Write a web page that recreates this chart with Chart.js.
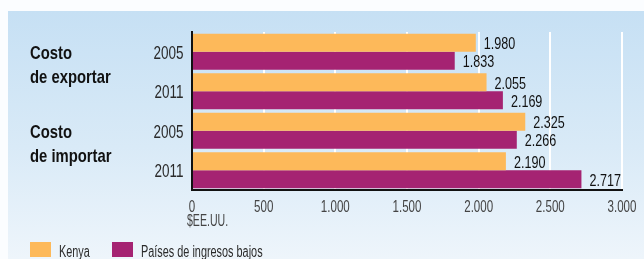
<!DOCTYPE html>
<html>
<head>
<meta charset="utf-8">
<script src="https://cdn.jsdelivr.net/npm/chart.js@4/dist/chart.umd.min.js"></script>
<style>
  html, body { margin: 0; padding: 0; background: #fbfdff; }
  #wrap { width: 644px; height: 259px; }
</style>
</head>
<body>
<div id="wrap"><canvas id="costChart" width="644" height="259"></canvas></div>
<script>
// --- Data ---
const categories = ['2005', '2011', '2005', '2011'];
const groupLabels = [['Costo', 'de exportar'], ['Costo', 'de importar']];
const groupStart = [0, 2];
const kenya = [1980, 2055, 2325, 2190];
const lowIncome = [1833, 2169, 2266, 2717];
const xTicks = [0, 500, 1000, 1500, 2000, 2500, 3000];
const unitLabel = '$EE.UU.';

// no condensed face installed, so text is squeezed horizontally by hand
const FONT = "'Liberation Sans', Arial, sans-serif";
const ORANGE = '#fdb95a';
const PURPLE = '#a52372';

function fmt(v) {
    return String(v).replace(/\B(?=(\d{3})+(?!\d))/g, '.');
}

function drawText(ctx, text, x, y, font, sx, align, color) {
    ctx.save();
    ctx.font = font;
    ctx.fillStyle = color;
    const w = ctx.measureText(text).width * sx;
    let left = x;
    if (align === 'right') left = x - w;
    else if (align === 'center') left = x - w / 2;
    ctx.translate(left, y);
    ctx.scale(sx, 1);
    ctx.textAlign = 'left';
    ctx.textBaseline = 'alphabetic';
    ctx.fillText(text, 0, 0);
    ctx.restore();
}

// background panel with soft blue gradient
const panelBg = {
    id: 'panelBg',
    beforeDraw(chart) {
        const ctx = chart.ctx;
        ctx.save();
        ctx.fillStyle = '#fbfdff';
        ctx.fillRect(0, 0, chart.width, chart.height);
        const grad = ctx.createLinearGradient(0, 11, 0, chart.height);
        grad.addColorStop(0, '#c6e0f4');
        grad.addColorStop(0.55, '#d9eaf7');
        grad.addColorStop(1, '#eef5fb');
        ctx.fillStyle = grad;
        ctx.fillRect(8, 11, chart.width - 8, chart.height - 11);
        ctx.restore();
    }
};

// values, tick labels, group names, unit and legend
const extras = {
    id: 'extras',
    afterDatasetsDraw(chart) {
        const ctx = chart.ctx;
        chart.data.datasets.forEach((ds, i) => {
            chart.getDatasetMeta(i).data.forEach((bar, j) => {
                drawText(ctx, fmt(ds.data[j]), bar.x + 8, bar.y + 6.5, '17px ' + FONT, 0.74, 'left', '#111');
            });
        });
    },
    afterDraw(chart) {
        const ctx = chart.ctx;
        const xScale = chart.scales.x;
        const yScale = chart.scales.y;

        // year labels
        categories.forEach((c, i) => {
            drawText(ctx, c, 183.5, yScale.getPixelForValue(i) + 7, '19px ' + FONT, 0.71, 'right', '#2a2a2a');
        });
        // x tick labels
        xScale.ticks.forEach(t => {
            drawText(ctx, fmt(t.value), xScale.getPixelForValue(t.value), 211.5, '17px ' + FONT, 0.68, 'center', '#444');
        });
        drawText(ctx, unitLabel, 187, 226, '16px ' + FONT, 0.66, 'left', '#444');

        // group labels
        groupLabels.forEach((lines, g) => {
            const base = yScale.getPixelForValue(groupStart[g]) + 7;
            lines.forEach((line, k) => {
                drawText(ctx, line, 30, base + k * 24, 'bold 19px ' + FONT, 0.78, 'left', '#111');
            });
        });

        // legend
        const legendX = [30, 112];
        chart.data.datasets.forEach((ds, i) => {
            ctx.save();
            ctx.fillStyle = ds.backgroundColor;
            ctx.fillRect(legendX[i], 242, 21, 15);
            ctx.restore();
            drawText(ctx, ds.label, legendX[i] + 29, 256.7, '16px ' + FONT, 0.68, 'left', '#2a2a2a');
        });
    }
};

new Chart(document.getElementById('costChart'), {
    type: 'bar',
    data: {
        labels: categories,
        datasets: [
            { label: 'Kenya', data: kenya, backgroundColor: ORANGE, borderWidth: 0 },
            { label: 'Países de ingresos bajos', data: lowIncome, backgroundColor: PURPLE, borderWidth: 0 }
        ]
    },
    options: {
        indexAxis: 'y',
        responsive: false,
        animation: false,
        devicePixelRatio: 1,
        layout: { padding: { top: 32, right: 22, left: 0, bottom: 0 } },
        categoryPercentage: 0.91,
        barPercentage: 1,
        plugins: { legend: { display: false }, tooltip: { enabled: false } },
        scales: {
            x: {
                min: 0, max: 3000,
                afterBuildTicks: s => { s.ticks = xTicks.map(v => ({ value: v })); },
                afterFit: s => { s.height = 69; },
                ticks: { display: false },
                grid: {
                    color: c => (c.tick && c.tick.value === 0) ? 'rgba(0,0,0,0)' : '#ffffff',
                    lineWidth: 2,
                    drawTicks: false
                },
                border: { display: true, color: '#111', width: 2 }
            },
            y: {
                afterFit: s => { s.width = 192; },
                ticks: { display: false },
                grid: { color: 'rgba(0,0,0,0)', drawTicks: false },
                border: { display: true, color: '#111', width: 2 }
            }
        }
    },
    plugins: [panelBg, extras]
});
</script>
</body>
</html>
